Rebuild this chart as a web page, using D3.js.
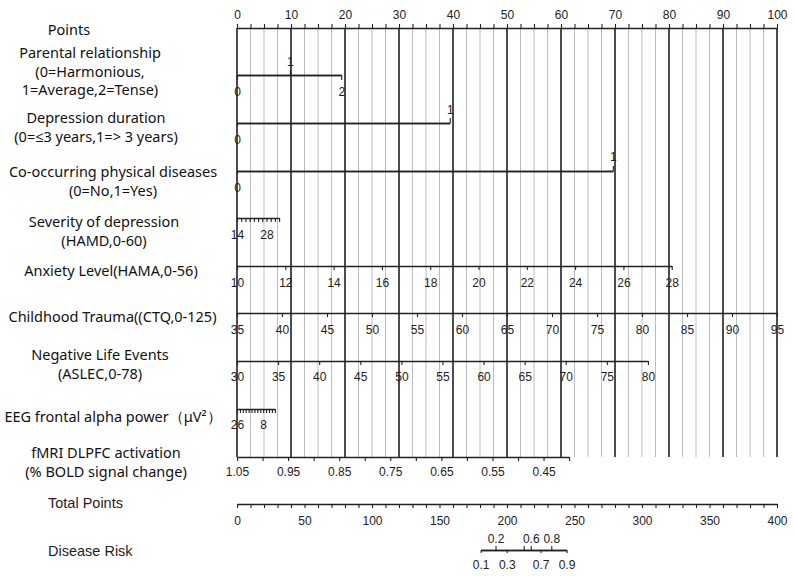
<!DOCTYPE html>
<html>
<head>
<meta charset="utf-8">
<script src="https://cdn.jsdelivr.net/npm/d3@7"></script>
<style>
  body { margin: 0; background: #fff; }
  .lab { font-family: "Noto Sans", "Open Sans", sans-serif; font-size: 14.5px; fill: #111; }
  .lab2 { font-family: "Liberation Sans", Arial, sans-serif; font-size: 14.5px; fill: #2a1c1c; }
</style>
</head>
<body>
<svg id="chart" width="794" height="576"></svg>
<script>
// values
var pointLabels = [0, 10, 20, 30, 40, 50, 60, 70, 80, 90, 100];
var pointTicks = d3.range(0, 100.01, 2.5);

var parentalValues = [0, 1, 2];
var parentalPoints = [0, 9.8, 19.3];
var durationValues = [0, 1];
var durationPoints = [0, 39.4];
var physicalValues = [0, 1];
var physicalPoints = [0, 69.6];

var hamdRange = [14, 34];
var hamdPoints = [0, 7.8];
var hamdTicks = [14, 16, 18, 20, 22, 24, 26, 28, 30, 32, 34];
var hamdLabels = [14, 28];

var hamaRange = [10, 28];
var hamaPoints = [0, 80.5];
var hamaTicks = [10, 12, 14, 16, 18, 20, 22, 24, 26, 28];

var ctqRange = [35, 95];
var ctqPoints = [0, 100];
var ctqTicks = [35, 40, 45, 50, 55, 60, 65, 70, 75, 80, 85, 90, 95];

var aslecRange = [30, 80];
var aslecPoints = [0, 76.1];
var aslecTicks = [30, 35, 40, 45, 50, 55, 60, 65, 70, 75, 80];

var eegRange = [26, 0];
var eegPoints = [0, 7.0];
var eegTicks = [26, 24, 22, 20, 18, 16, 14, 12, 10, 8, 6, 4, 2, 0];
var eegLabels = [26, 8];

var fmriRange = [1.05, 0.40];
var fmriPoints = [0, 61.5];
var fmriTicks = [1.05, 1.00, 0.95, 0.90, 0.85, 0.80, 0.75, 0.70, 0.65, 0.60, 0.55, 0.50, 0.45, 0.40];
var fmriLabels = [1.05, 0.95, 0.85, 0.75, 0.65, 0.55, 0.45];

var totalTicks = d3.range(0, 400.01, 10);
var totalLabels = [0, 50, 100, 150, 200, 250, 300, 350, 400];

var riskValues = [0.1, 0.2, 0.3, 0.5, 0.6, 0.7, 0.8, 0.9];
var riskTotalPoints = [180.5, 191.5, 199.8, 212.4, 217.6, 224.9, 232.8, 244.1];
var riskTop = [0.2, 0.5, 0.6, 0.8];
var riskTopLabels = [0.2, 0.6, 0.8];
var riskBottom = [0.1, 0.3, 0.7, 0.9];

var rowNames = [
  ["Points"],
  ["Parental relationship", "(0=Harmonious,", "1=Average,2=Tense)"],
  ["Depression duration", "(0=\u22643 years,1=> 3 years)"],
  ["Co-occurring physical diseases", "(0=No,1=Yes)"],
  ["Severity of depression", "(HAMD,0-60)"],
  ["Anxiety Level(HAMA,0-56)"],
  ["Childhood Trauma((CTQ,0-125)"],
  ["Negative Life Events", "(ASLEC,0-78)"],
  ["EEG frontal alpha power\uff08\u03bcV\u00b2\uff09"],
  ["fMRI DLPFC activation", "(% BOLD signal change)"]
];

// layout
var labelX = [69, 90, 96, 113, 104, 111, 112.5, 100, 113, 106];
var labelY = [30, 52.7, 118.3, 171.7, 221.7, 271, 316.7, 355, 416.7, 452.7];
var lineGap = 18.8;
var axisY = [28, 75, 123, 171, 218, 266, 313, 361, 409, 457];
var totalY = 504, riskY = 550;

var svg = d3.select("#chart");

var x = d3.scaleLinear().domain([0, 100]).range([237, 777]);
var xt = d3.scaleLinear().domain([0, 400]).range([237, 777]);

// vertical guide lines
svg.append("g").selectAll("line")
  .data(pointTicks)
  .join("line")
    .attr("x1", function(d) { return x(d); })
    .attr("x2", function(d) { return x(d); })
    .attr("y1", axisY[0])
    .attr("y2", axisY[9])
    .attr("stroke", function(d) { return d % 10 === 0 ? "#111" : "#bdbdbd"; })
    .attr("stroke-width", function(d) { return d % 10 === 0 ? 1.5 : 1; });

function near(list, d) {
  return list.some(function(v) { return Math.abs(v - d) < 1e-6; });
}

function drawAxis(scale, y, top, ticks, labels, fmt, size, pad) {
  var ax = (top ? d3.axisTop(scale) : d3.axisBottom(scale))
    .tickValues(ticks)
    .tickSize(size)
    .tickSizeOuter(0)
    .tickPadding(pad)
    .tickFormat(function(d) { return near(labels, d) ? fmt(d) : ""; });
  var g = svg.append("g")
    .attr("transform", "translate(0," + y + ")")
    .call(ax);
  g.attr("font-family", "'Liberation Sans', Arial, sans-serif").attr("font-size", 12);
  g.select(".domain").attr("stroke", "#222").attr("stroke-width", 1.3);
  g.selectAll(".tick line").attr("stroke", "#222").attr("stroke-width", 1.1);
  g.selectAll(".tick text").attr("fill", "#222");
  return g;
}

function rowScale(dom, pts) {
  return d3.scaleLinear().domain(dom).range(pts.map(function(p) { return x(p); }));
}

var plain = function(d) { return d; };
var two = d3.format(".2f");

// Points
drawAxis(x, axisY[0], true, pointTicks, pointLabels, plain, 4, 5.5);

// categorical rows
var sPar = rowScale(parentalValues, parentalPoints);
drawAxis(sPar, axisY[1], false, [0, 2], [0, 2], plain, 5, 7.5);
drawAxis(sPar, axisY[1], true, [1], [1], plain, 5, 4.5);

var sDur = rowScale(durationValues, durationPoints);
drawAxis(sDur, axisY[2], false, [0], [0], plain, 4, 8.5);
drawAxis(sDur, axisY[2], true, [1], [1], plain, 5, 4.5);

var sPhy = rowScale(physicalValues, physicalPoints);
drawAxis(sPhy, axisY[3], false, [0], [0], plain, 4, 8.5);
drawAxis(sPhy, axisY[3], true, [1], [1], plain, 5, 5);

// continuous rows
drawAxis(rowScale(hamdRange, hamdPoints), axisY[4], false, hamdTicks, hamdLabels, plain, 4, 8.5);
drawAxis(rowScale(hamaRange, hamaPoints), axisY[5], false, hamaTicks, hamaTicks, plain, 4, 8.5);
drawAxis(rowScale(ctqRange, ctqPoints), axisY[6], false, ctqTicks, ctqTicks, plain, 4, 8.5);
drawAxis(rowScale(aslecRange, aslecPoints), axisY[7], false, aslecTicks, aslecTicks, plain, 4, 7.5);
drawAxis(rowScale(eegRange, eegPoints), axisY[8], false, eegTicks, eegLabels, plain, 4, 7.5);
drawAxis(rowScale(fmriRange, fmriPoints), axisY[9], false, fmriTicks, fmriLabels, two, 4, 6.5);

// Total points and risk
drawAxis(xt, totalY, false, totalTicks, totalLabels, plain, 4, 8);
var sRisk = d3.scaleLinear().domain(riskValues).range(riskTotalPoints.map(function(p) { return xt(p); }));
drawAxis(sRisk, riskY, true, riskTop, riskTopLabels, plain, 4, 3);
drawAxis(sRisk, riskY, false, riskBottom, riskBottom, plain, 3, 7);

// row names
rowNames.forEach(function(lines, i) {
  lines.forEach(function(t, j) {
    svg.append("text")
      .attr("class", "lab")
      .attr("x", labelX[i])
      .attr("y", labelY[i] + j * lineGap)
      .attr("dy", "0.35em")
      .attr("text-anchor", "middle")
      .text(t);
  });
});

svg.append("text").attr("class", "lab2")
  .attr("x", 48).attr("y", 503).attr("dy", "0.35em")
  .text("Total Points");
svg.append("text").attr("class", "lab2")
  .attr("x", 48).attr("y", 551).attr("dy", "0.35em")
  .text("Disease Risk");
</script>
</body>
</html>
